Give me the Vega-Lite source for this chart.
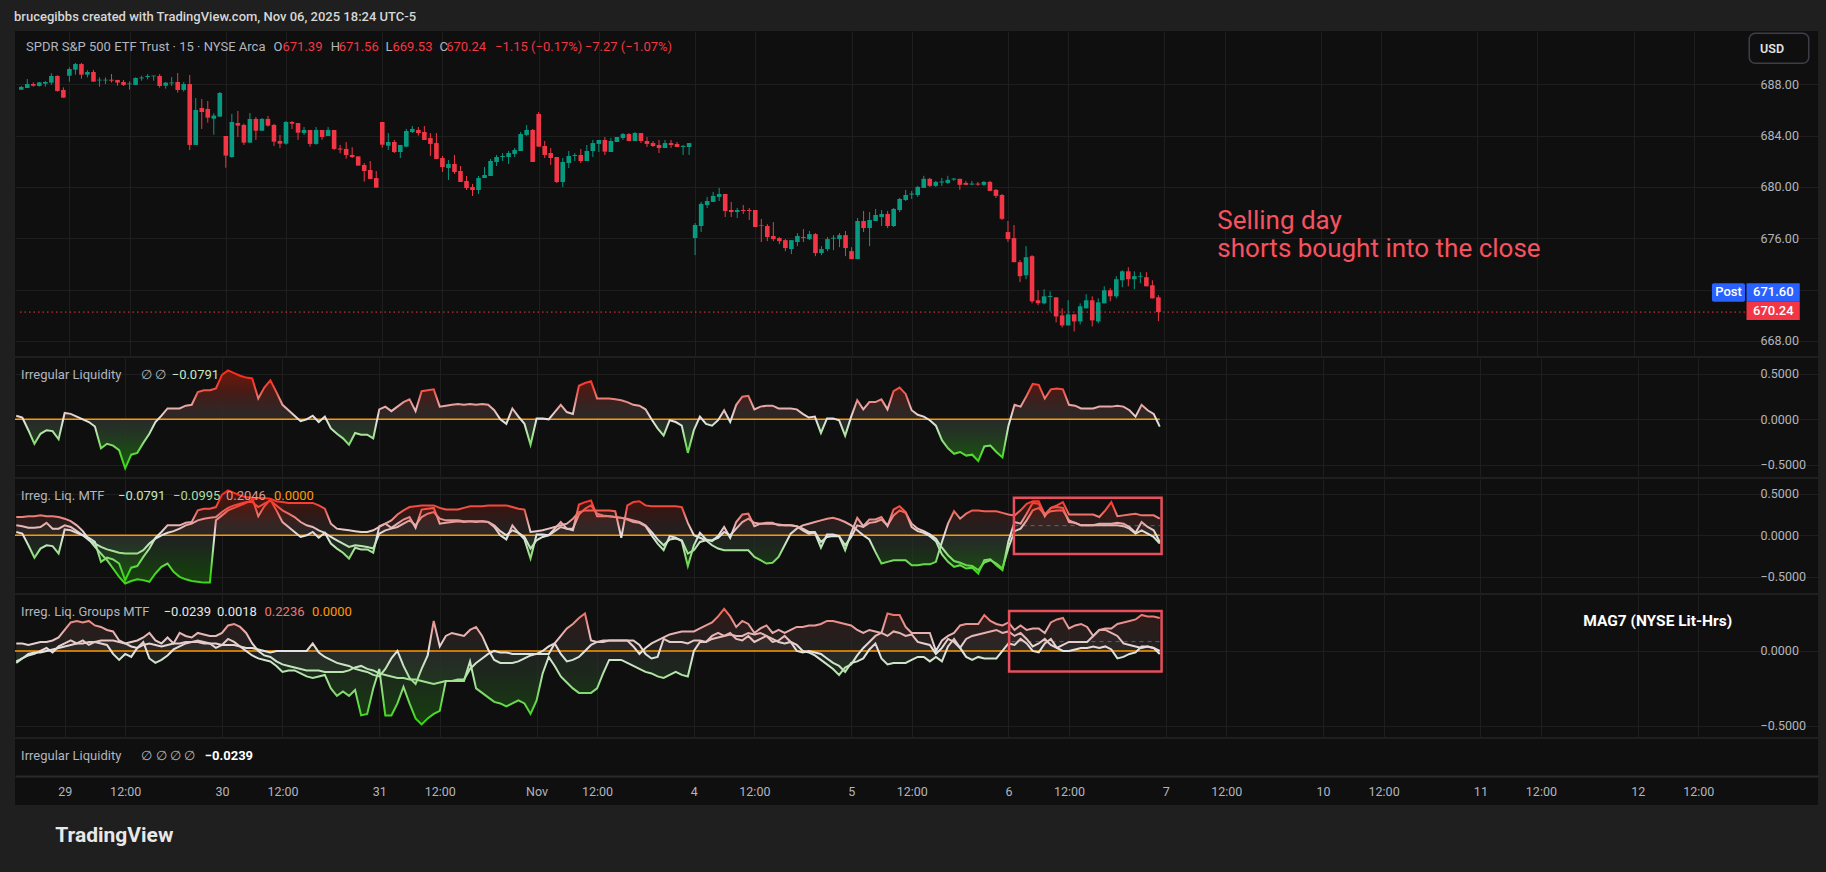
{
"$schema": "https://vega.github.io/schema/vega-lite/v6.json",
"background": "#1f1f1f",
"padding": {"left": 12, "right": 11, "top": 11, "bottom": 26},
"spacing": 2,
"title": {"text": "TradingView", "orient": "bottom", "anchor": "start", "offset": 20, "dx": 43, "font": "Roboto", "fontSize": 21, "fontWeight": "bold", "color": "#e8e8e8"},
"config": {
  "view": {"stroke": null, "fill": "#0f0f0f"},
  "axis": {"labelFont": "Roboto", "labelColor": "#b2b5be", "labelFontSize": 12.5, "domain": false, "ticks": false, "title": null, "gridColor": "#1e1e1e"},
  "text": {"font": "Roboto", "fontSize": 13, "align": "left", "baseline": "middle"},
  "title": {"font": "Roboto"}
},
"datasets": {
"one": [{}],
"bars": [
{"i":-8,"o":687.58,"h":687.87,"l":687.56,"c":687.79,"a":0.04,"b":0.12,"m":0.22,"d":-0.08,"e":-0.07,"f":0.05},
{"i":-7,"o":687.71,"h":688.41,"l":687.71,"c":688.02,"a":0.02,"b":0.11,"m":0.22,"d":-0.05,"e":-0.05,"f":0.05},
{"i":-6,"o":688.02,"h":688.15,"l":687.82,"c":687.89,"a":-0.12,"b":0.09,"m":0.23,"d":-0.03,"e":-0.02,"f":0.04},
{"i":-5,"o":687.87,"h":688.18,"l":687.82,"c":688.15,"a":-0.27,"b":0.09,"m":0.23,"d":-0.02,"e":-0.01,"f":0.05},
{"i":-4,"o":688.05,"h":688.26,"l":687.82,"c":688.18,"a":-0.16,"b":0.10,"m":0.24,"d":0,"e":-0.01,"f":0.06},
{"i":-3,"o":688.13,"h":688.86,"l":687.97,"c":688.65,"a":-0.12,"b":0.15,"m":0.23,"d":0.02,"e":0,"f":0.06},
{"i":-2,"o":688.65,"h":688.70,"l":687.43,"c":687.48,"a":-0.13,"b":0.08,"m":0.23,"d":-0.01,"e":0.01,"f":0.07},
{"i":-1,"o":687.56,"h":687.76,"l":686.96,"c":686.96,"a":-0.22,"b":0.08,"m":0.22,"d":0.03,"e":0.02,"f":0.09},
{"i":0,"o":688.67,"h":689.32,"l":688.21,"c":689.19,"a":0.07,"b":0.12,"m":0.20,"d":0.05,"e":0.03,"f":0.14},
{"i":1,"o":689.14,"h":689.66,"l":688.75,"c":689.58,"a":0.06,"b":0.10,"m":0.17,"d":0.07,"e":0.04,"f":0.19},
{"i":2,"o":689.58,"h":689.66,"l":688.44,"c":688.75,"a":0.03,"b":0.05,"m":0.12,"d":0.05,"e":0.05,"f":0.20},
{"i":3,"o":688.75,"h":689.09,"l":688.54,"c":688.96,"a":0,"b":0,"m":0.05,"d":0.07,"e":0.05,"f":0.19},
{"i":4,"o":688.96,"h":689.12,"l":688.21,"c":688.21,"a":-0.03,"b":-0.06,"m":-0.05,"d":0.04,"e":0.06,"f":0.20},
{"i":5,"o":688.30,"h":688.54,"l":687.82,"c":688.36,"a":-0.08,"b":-0.10,"m":-0.14,"d":0.06,"e":0.06,"f":0.17},
{"i":6,"o":688.30,"h":688.54,"l":688.02,"c":688.36,"a":-0.32,"b":-0.14,"m":-0.22,"d":0.05,"e":0.07,"f":0.16},
{"i":7,"o":688.36,"h":688.80,"l":688.15,"c":688.28,"a":-0.27,"b":-0.17,"m":-0.30,"d":0.04,"e":0.07,"f":0.14},
{"i":8,"o":688.34,"h":688.34,"l":687.89,"c":688.13,"a":-0.29,"b":-0.19,"m":-0.40,"d":-0.02,"e":0.07,"f":0.13},
{"i":9,"o":688.18,"h":688.34,"l":687.87,"c":687.95,"a":-0.34,"b":-0.21,"m":-0.50,"d":-0.06,"e":0.06,"f":0.07},
{"i":10,"o":688.00,"h":688.23,"l":687.58,"c":688.06,"a":-0.54,"b":-0.22,"m":-0.58,"d":-0.02,"e":0.05,"f":0.05},
{"i":11,"o":687.95,"h":688.54,"l":687.95,"c":688.49,"a":-0.39,"b":-0.22,"m":-0.55,"d":-0.04,"e":0.03,"f":0.06},
{"i":12,"o":688.46,"h":688.67,"l":688.28,"c":688.53,"a":-0.37,"b":-0.22,"m":-0.53,"d":0.02,"e":0.02,"f":0.07},
{"i":13,"o":688.57,"h":688.80,"l":688.39,"c":688.65,"a":-0.26,"b":-0.18,"m":-0.54,"d":0.06,"e":0.04,"f":0.09},
{"i":14,"o":688.62,"h":688.67,"l":688.28,"c":688.68,"a":-0.16,"b":-0.10,"m":-0.56,"d":-0.05,"e":0.05,"f":0.12},
{"i":15,"o":688.65,"h":688.80,"l":687.74,"c":687.87,"a":-0.03,"b":-0.04,"m":-0.46,"d":-0.08,"e":0.04,"f":0.07},
{"i":16,"o":687.89,"h":688.18,"l":687.66,"c":688.13,"a":0.04,"b":0,"m":-0.38,"d":-0.06,"e":0.03,"f":0.05},
{"i":17,"o":688.07,"h":688.57,"l":687.87,"c":688.14,"a":0.12,"b":0.03,"m":-0.34,"d":-0.03,"e":0.04,"f":0.09},
{"i":18,"o":688.18,"h":688.88,"l":687.35,"c":687.56,"a":0.12,"b":0.05,"m":-0.44,"d":0.01,"e":0.05,"f":0.05},
{"i":19,"o":687.56,"h":688.18,"l":687.43,"c":688.02,"a":0.12,"b":0.08,"m":-0.50,"d":0.03,"e":0.05,"f":0.12},
{"i":20,"o":688.02,"h":688.73,"l":682.88,"c":683.27,"a":0.15,"b":0.12,"m":-0.53,"d":0.05,"e":0.06,"f":0.10},
{"i":21,"o":683.27,"h":686.93,"l":683.27,"c":686.00,"a":0.16,"b":0.14,"m":-0.55,"d":0.06,"e":0.06,"f":0.09},
{"i":22,"o":686.15,"h":686.85,"l":684.52,"c":685.84,"a":0.30,"b":0.18,"m":-0.56,"d":0.07,"e":0.06,"f":0.12},
{"i":23,"o":686.08,"h":686.70,"l":685.01,"c":685.40,"a":0.32,"b":0.20,"m":-0.57,"d":0.06,"e":0.05,"f":0.11},
{"i":24,"o":685.32,"h":685.74,"l":684.07,"c":685.56,"a":0.32,"b":0.21,"m":-0.57,"d":0.05,"e":0.05,"f":0.10},
{"i":25,"o":685.48,"h":687.40,"l":685.48,"c":687.32,"a":0.34,"b":0.22,"m":0.18,"d":0.02,"e":0.05,"f":0.10},
{"i":26,"o":683.97,"h":683.97,"l":681.50,"c":682.44,"a":0.49,"b":0.28,"m":0.24,"d":0.04,"e":0.04,"f":0.12},
{"i":27,"o":682.33,"h":685.69,"l":682.28,"c":685.06,"a":0.54,"b":0.33,"m":0.30,"d":0.08,"e":0.04,"f":0.17},
{"i":28,"o":684.98,"h":685.92,"l":683.89,"c":684.78,"a":0.51,"b":0.36,"m":0.33,"d":0.06,"e":0.04,"f":0.18},
{"i":29,"o":684.83,"h":684.93,"l":683.27,"c":683.45,"a":0.48,"b":0.38,"m":0.36,"d":0.03,"e":0.03,"f":0.16},
{"i":30,"o":683.45,"h":685.76,"l":683.45,"c":685.30,"a":0.46,"b":0.40,"m":0.39,"d":0,"e":0.02,"f":0.12},
{"i":31,"o":685.30,"h":685.45,"l":683.66,"c":684.38,"a":0.45,"b":0.40,"m":0.43,"d":-0.03,"e":0.02,"f":0.05},
{"i":32,"o":684.38,"h":685.37,"l":684.38,"c":685.30,"a":0.23,"b":0.34,"m":0.45,"d":-0.05,"e":0.01,"f":0},
{"i":33,"o":685.30,"h":685.53,"l":684.70,"c":684.78,"a":0.35,"b":0.38,"m":0.45,"d":-0.06,"e":0,"f":-0.03},
{"i":34,"o":684.83,"h":684.91,"l":683.19,"c":683.53,"a":0.43,"b":0.42,"m":0.44,"d":-0.07,"e":-0.01,"f":-0.04},
{"i":35,"o":683.58,"h":684.05,"l":683.03,"c":683.37,"a":0.30,"b":0.36,"m":0.41,"d":-0.10,"e":0,"f":-0.07},
{"i":36,"o":683.37,"h":685.14,"l":683.29,"c":685.06,"a":0.16,"b":0.30,"m":0.40,"d":-0.14,"e":0,"f":-0.09},
{"i":37,"o":685.06,"h":685.14,"l":684.52,"c":684.93,"a":0.10,"b":0.26,"m":0.39,"d":-0.13,"e":0,"f":-0.10},
{"i":38,"o":684.98,"h":684.98,"l":683.66,"c":684.23,"a":0.04,"b":0.22,"m":0.39,"d":-0.13,"e":0,"f":-0.11},
{"i":39,"o":684.20,"h":684.67,"l":684.05,"c":684.44,"a":-0.02,"b":0.16,"m":0.39,"d":-0.15,"e":0,"f":-0.12},
{"i":40,"o":684.44,"h":684.44,"l":683.14,"c":683.35,"a":0,"b":0.12,"m":0.39,"d":-0.17,"e":0,"f":-0.13},
{"i":41,"o":683.35,"h":684.67,"l":683.29,"c":684.44,"a":0.04,"b":0.10,"m":0.39,"d":-0.18,"e":0.05,"f":-0.13},
{"i":42,"o":684.44,"h":684.44,"l":683.68,"c":683.89,"a":-0.03,"b":0.06,"m":0.36,"d":-0.17,"e":-0.01,"f":-0.13},
{"i":43,"o":683.97,"h":684.67,"l":683.97,"c":684.44,"a":0.03,"b":0.03,"m":0.32,"d":-0.16,"e":-0.04,"f":-0.14},
{"i":44,"o":684.44,"h":684.44,"l":682.88,"c":682.96,"a":-0.10,"b":-0.02,"m":0.14,"d":-0.25,"e":-0.06,"f":-0.14},
{"i":45,"o":682.99,"h":683.27,"l":682.62,"c":682.91,"a":-0.16,"b":-0.06,"m":0.08,"d":-0.30,"e":-0.08,"f":-0.14},
{"i":46,"o":682.96,"h":683.50,"l":682.20,"c":682.49,"a":-0.21,"b":-0.10,"m":0.07,"d":-0.27,"e":-0.09,"f":-0.14},
{"i":47,"o":682.49,"h":683.09,"l":682.25,"c":682.33,"a":-0.28,"b":-0.14,"m":0.06,"d":-0.30,"e":-0.10,"f":-0.13},
{"i":48,"o":682.38,"h":682.38,"l":681.66,"c":681.66,"a":-0.15,"b":-0.12,"m":0.05,"d":-0.26,"e":-0.12,"f":-0.11},
{"i":49,"o":681.71,"h":681.86,"l":680.41,"c":681.24,"a":-0.17,"b":-0.13,"m":0.04,"d":-0.43,"e":-0.13,"f":-0.10},
{"i":50,"o":681.32,"h":682.02,"l":680.62,"c":680.62,"a":-0.17,"b":-0.14,"m":0.04,"d":-0.42,"e":-0.14,"f":-0.12},
{"i":51,"o":680.69,"h":681.24,"l":679.94,"c":679.94,"a":-0.21,"b":-0.16,"m":0.06,"d":-0.25,"e":-0.16,"f":-0.13},
{"i":52,"o":685.06,"h":685.06,"l":683.06,"c":683.29,"a":0.11,"b":0.02,"m":0.10,"d":-0.12,"e":-0.17,"f":-0.15},
{"i":53,"o":683.21,"h":684.20,"l":682.88,"c":683.50,"a":0.14,"b":0.06,"m":0.14,"d":-0.43,"e":-0.12,"f":-0.16},
{"i":54,"o":683.50,"h":683.66,"l":682.64,"c":682.72,"a":0.09,"b":0.08,"m":0.18,"d":-0.43,"e":-0.05,"f":-0.17},
{"i":55,"o":682.72,"h":683.27,"l":682.25,"c":683.27,"a":0.14,"b":0.10,"m":0.25,"d":-0.35,"e":0,"f":-0.18},
{"i":56,"o":683.14,"h":684.52,"l":683.09,"c":684.36,"a":0.19,"b":0.14,"m":0.30,"d":-0.24,"e":-0.10,"f":-0.18},
{"i":57,"o":684.28,"h":684.75,"l":684.20,"c":684.52,"a":0.22,"b":0.18,"m":0.34,"d":-0.35,"e":-0.18,"f":-0.19},
{"i":58,"o":684.44,"h":684.67,"l":684.00,"c":684.20,"a":0.09,"b":0.12,"m":0.35,"d":-0.45,"e":-0.22,"f":-0.19},
{"i":59,"o":684.28,"h":684.75,"l":683.66,"c":683.66,"a":0.31,"b":0.22,"m":0.36,"d":-0.49,"e":-0.12,"f":-0.20},
{"i":60,"o":683.81,"h":684.20,"l":682.41,"c":683.35,"a":0.32,"b":0.26,"m":0.36,"d":-0.45,"e":-0.03,"f":-0.21},
{"i":61,"o":683.42,"h":684.20,"l":682.18,"c":682.18,"a":0.33,"b":0.28,"m":0.36,"d":-0.42,"e":0.20,"f":-0.22},
{"i":62,"o":682.25,"h":682.41,"l":681.16,"c":681.55,"a":0.14,"b":0.20,"m":0.33,"d":-0.40,"e":0.03,"f":-0.21},
{"i":63,"o":681.47,"h":682.10,"l":680.54,"c":681.79,"a":0.15,"b":0.18,"m":0.31,"d":-0.20,"e":0.10,"f":-0.20},
{"i":64,"o":681.79,"h":682.49,"l":681.01,"c":681.16,"a":0.16,"b":0.18,"m":0.31,"d":-0.20,"e":0.12,"f":-0.20},
{"i":65,"o":681.24,"h":681.63,"l":680.38,"c":680.38,"a":0.17,"b":0.18,"m":0.31,"d":-0.20,"e":0.11,"f":-0.19},
{"i":66,"o":680.46,"h":680.85,"l":679.76,"c":679.91,"a":0.16,"b":0.17,"m":0.33,"d":-0.20,"e":0.10,"f":-0.19},
{"i":67,"o":679.99,"h":680.23,"l":679.29,"c":679.76,"a":0.17,"b":0.17,"m":0.35,"d":-0.07,"e":0.14,"f":-0.12},
{"i":68,"o":679.76,"h":680.85,"l":679.45,"c":680.69,"a":0.16,"b":0.17,"m":0.35,"d":-0.25,"e":0.16,"f":-0.08},
{"i":69,"o":680.69,"h":681.55,"l":680.69,"c":680.93,"a":0.17,"b":0.17,"m":0.35,"d":-0.28,"e":0.10,"f":-0.05},
{"i":70,"o":680.85,"h":682.18,"l":680.85,"c":682.02,"a":0.16,"b":0.16,"m":0.36,"d":-0.31,"e":0.01,"f":-0.02},
{"i":71,"o":681.94,"h":682.49,"l":681.63,"c":682.33,"a":0.10,"b":0.12,"m":0.36,"d":-0.34,"e":-0.06,"f":0},
{"i":72,"o":682.33,"h":682.64,"l":682.02,"c":682.41,"a":0,"b":0.05,"m":0.36,"d":-0.35,"e":-0.08,"f":-0.01},
{"i":73,"o":682.33,"h":682.80,"l":681.79,"c":682.64,"a":-0.05,"b":0,"m":0.36,"d":-0.37,"e":-0.08,"f":-0.01},
{"i":74,"o":682.57,"h":683.03,"l":682.33,"c":682.88,"a":0.12,"b":0.06,"m":0.34,"d":-0.35,"e":-0.08,"f":-0.02},
{"i":75,"o":682.80,"h":684.28,"l":682.80,"c":684.12,"a":0.03,"b":0.03,"m":0.32,"d":-0.33,"e":-0.07,"f":-0.02},
{"i":76,"o":684.05,"h":684.83,"l":683.97,"c":684.44,"a":-0.05,"b":-0.02,"m":0.31,"d":-0.35,"e":-0.05,"f":-0.02},
{"i":77,"o":684.44,"h":684.52,"l":681.94,"c":681.94,"a":-0.28,"b":-0.16,"m":0.04,"d":-0.42,"e":-0.03,"f":-0.02},
{"i":78,"o":685.69,"h":685.84,"l":683.14,"c":683.14,"a":0.01,"b":-0.06,"m":0.05,"d":-0.33,"e":-0.02,"f":-0.02},
{"i":79,"o":683.19,"h":683.58,"l":682.25,"c":682.49,"a":0.01,"b":-0.02,"m":0.06,"d":-0.15,"e":0,"f":-0.02},
{"i":80,"o":682.64,"h":683.03,"l":681.71,"c":682.25,"a":0,"b":0,"m":0.08,"d":-0.04,"e":0.03,"f":-0.02},
{"i":81,"o":682.33,"h":682.33,"l":680.30,"c":680.38,"a":0.08,"b":0.05,"m":0.10,"d":-0.10,"e":0.05,"f":0.05},
{"i":82,"o":680.38,"h":682.25,"l":679.99,"c":681.94,"a":0.16,"b":0.10,"m":0.12,"d":-0.17,"e":-0.02,"f":0.10},
{"i":83,"o":681.86,"h":682.80,"l":681.47,"c":682.41,"a":0.08,"b":0.08,"m":0.14,"d":-0.21,"e":-0.07,"f":0.15},
{"i":84,"o":682.41,"h":682.64,"l":682.02,"c":682.49,"a":0.06,"b":0.08,"m":0.20,"d":-0.25,"e":-0.06,"f":0.18},
{"i":85,"o":682.49,"h":682.96,"l":681.86,"c":682.02,"a":0.37,"b":0.25,"m":0.28,"d":-0.28,"e":-0.04,"f":0.22},
{"i":86,"o":682.02,"h":683.27,"l":682.02,"c":682.80,"a":0.40,"b":0.32,"m":0.30,"d":-0.28,"e":0,"f":0.25},
{"i":87,"o":682.80,"h":683.66,"l":682.33,"c":683.42,"a":0.42,"b":0.36,"m":0.30,"d":-0.28,"e":0.04,"f":0.07},
{"i":88,"o":683.35,"h":683.66,"l":682.72,"c":683.66,"a":0.23,"b":0.26,"m":0.30,"d":-0.25,"e":0.06,"f":0.06},
{"i":89,"o":683.66,"h":683.89,"l":682.49,"c":682.75,"a":0.23,"b":0.24,"m":0.30,"d":-0.15,"e":0.07,"f":0.06},
{"i":90,"o":682.72,"h":683.81,"l":682.72,"c":683.58,"a":0.23,"b":0.23,"m":0.30,"d":-0.06,"e":0.07,"f":0.07},
{"i":91,"o":683.50,"h":683.89,"l":683.50,"c":683.89,"a":0.22,"b":0.22,"m":0.29,"d":-0.06,"e":0.07,"f":0.07},
{"i":92,"o":683.81,"h":684.20,"l":683.66,"c":684.12,"a":0.21,"b":0.21,"m":-0.03,"d":-0.06,"e":0.07,"f":0.07},
{"i":93,"o":684.12,"h":684.20,"l":683.58,"c":683.58,"a":0.19,"b":0.20,"m":0.36,"d":-0.08,"e":0.07,"f":0.07},
{"i":94,"o":683.58,"h":684.28,"l":683.58,"c":684.20,"a":0.16,"b":0.18,"m":0.40,"d":-0.10,"e":0.07,"f":0.03},
{"i":95,"o":684.20,"h":684.20,"l":683.42,"c":683.58,"a":0.15,"b":0.16,"m":0.41,"d":-0.12,"e":0.04,"f":-0.02},
{"i":96,"o":683.58,"h":683.89,"l":683.11,"c":683.35,"a":0.11,"b":0.12,"m":0.36,"d":-0.14,"e":-0.02,"f":0.02},
{"i":97,"o":683.42,"h":683.58,"l":683.11,"c":683.19,"a":0,"b":0.04,"m":0.35,"d":-0.15,"e":-0.05,"f":0.05},
{"i":98,"o":683.27,"h":683.66,"l":682.64,"c":683.03,"a":-0.10,"b":-0.05,"m":0.35,"d":-0.17,"e":-0.04,"f":0.07},
{"i":99,"o":683.03,"h":683.66,"l":683.03,"c":683.42,"a":-0.18,"b":-0.12,"m":0.35,"d":-0.18,"e":0.08,"f":0.09},
{"i":100,"o":683.42,"h":683.66,"l":683.03,"c":683.27,"a":-0.01,"b":-0.05,"m":0.35,"d":-0.16,"e":0.06,"f":0.11},
{"i":101,"o":683.35,"h":683.50,"l":683.11,"c":683.11,"a":-0.03,"b":-0.04,"m":0.35,"d":-0.14,"e":0.06,"f":0.12},
{"i":102,"o":683.12,"h":683.27,"l":682.49,"c":683.20,"a":-0.07,"b":-0.06,"m":0.34,"d":-0.16,"e":0.06,"f":0.13},
{"i":103,"o":683.11,"h":683.42,"l":682.49,"c":683.42,"a":-0.37,"b":-0.22,"m":0.15,"d":-0.17,"e":0.05,"f":0.13},
{"i":104,"o":676.01,"h":677.18,"l":674.68,"c":677.03,"a":-0.12,"b":-0.18,"m":0,"d":0,"e":0.07,"f":0.13},
{"i":105,"o":676.95,"h":678.83,"l":676.48,"c":678.67,"a":0.03,"b":-0.08,"m":-0.03,"d":0.06,"e":0.07,"f":0.15},
{"i":106,"o":678.59,"h":679.22,"l":678.36,"c":678.90,"a":-0.05,"b":-0.06,"m":-0.06,"d":0.06,"e":0.06,"f":0.17},
{"i":107,"o":678.83,"h":679.61,"l":678.83,"c":679.30,"a":-0.07,"b":-0.06,"m":-0.12,"d":0.10,"e":0.08,"f":0.19},
{"i":108,"o":679.22,"h":679.92,"l":678.90,"c":679.45,"a":-0.01,"b":-0.03,"m":-0.16,"d":0.12,"e":0.09,"f":0.23},
{"i":109,"o":679.45,"h":679.45,"l":677.65,"c":678.12,"a":0.10,"b":0.04,"m":-0.18,"d":0.10,"e":0.10,"f":0.28},
{"i":110,"o":678.20,"h":678.83,"l":677.65,"c":678.04,"a":-0.03,"b":0,"m":-0.18,"d":0.12,"e":0.11,"f":0.23},
{"i":111,"o":678.04,"h":678.36,"l":677.57,"c":678.20,"a":0.16,"b":0.08,"m":-0.18,"d":0.08,"e":0.10,"f":0.16},
{"i":112,"o":678.20,"h":678.59,"l":677.89,"c":678.12,"a":0.25,"b":0.16,"m":-0.18,"d":0.07,"e":0.10,"f":0.20},
{"i":113,"o":678.20,"h":678.36,"l":677.42,"c":678.12,"a":0.26,"b":0.20,"m":-0.18,"d":0.10,"e":0.12,"f":0.18},
{"i":114,"o":678.20,"h":678.20,"l":676.87,"c":676.87,"a":0.11,"b":0.15,"m":-0.26,"d":0.06,"e":0.11,"f":0.12},
{"i":115,"o":677.03,"h":677.50,"l":675.70,"c":676.98,"a":0.14,"b":0.14,"m":-0.30,"d":0.08,"e":0.12,"f":0.15},
{"i":116,"o":676.95,"h":677.10,"l":675.77,"c":676.09,"a":0.15,"b":0.14,"m":-0.34,"d":0.10,"e":0.10,"f":0.17},
{"i":117,"o":676.17,"h":677.26,"l":675.77,"c":675.93,"a":0.15,"b":0.14,"m":-0.33,"d":0.06,"e":0.08,"f":0.12},
{"i":118,"o":676.01,"h":676.09,"l":675.54,"c":675.77,"a":0.12,"b":0.13,"m":-0.26,"d":0.07,"e":0.06,"f":0.14},
{"i":119,"o":675.85,"h":675.93,"l":674.99,"c":675.23,"a":0.12,"b":0.12,"m":-0.12,"d":0.10,"e":0.05,"f":0.12},
{"i":120,"o":675.15,"h":675.85,"l":674.76,"c":675.85,"a":0.12,"b":0.12,"m":0.02,"d":0.06,"e":0.06,"f":0.14},
{"i":121,"o":675.70,"h":676.40,"l":675.38,"c":676.17,"a":0.11,"b":0.11,"m":0.08,"d":0,"e":0.04,"f":0.16},
{"i":122,"o":676.09,"h":676.71,"l":675.70,"c":676.01,"a":0.06,"b":0.08,"m":0.12,"d":-0.01,"e":0,"f":0.16},
{"i":123,"o":675.93,"h":676.56,"l":675.85,"c":676.32,"a":0.02,"b":0.04,"m":0.14,"d":0,"e":-0.01,"f":0.17},
{"i":124,"o":676.32,"h":676.40,"l":674.60,"c":674.84,"a":0.03,"b":0.04,"m":0.16,"d":-0.01,"e":-0.03,"f":0.17},
{"i":125,"o":674.84,"h":675.38,"l":674.68,"c":675.15,"a":-0.15,"b":-0.08,"m":0.18,"d":-0.02,"e":-0.06,"f":0.18},
{"i":126,"o":675.15,"h":676.09,"l":674.99,"c":675.93,"a":0.01,"b":-0.02,"m":0.20,"d":-0.05,"e":-0.09,"f":0.20},
{"i":127,"o":675.96,"h":676.24,"l":675.07,"c":676.04,"a":0.01,"b":-0.01,"m":0.21,"d":-0.08,"e":-0.12,"f":0.20},
{"i":128,"o":675.93,"h":676.40,"l":675.30,"c":676.24,"a":-0.01,"b":-0.01,"m":0.19,"d":-0.10,"e":-0.16,"f":0.19},
{"i":129,"o":676.24,"h":676.56,"l":674.60,"c":675.23,"a":-0.18,"b":-0.12,"m":0.16,"d":-0.14,"e":-0.11,"f":0.18},
{"i":130,"o":674.99,"h":675.30,"l":674.37,"c":674.37,"a":0.03,"b":-0.02,"m":0.12,"d":-0.08,"e":-0.09,"f":0.17},
{"i":131,"o":674.37,"h":677.57,"l":674.37,"c":677.34,"a":0.21,"b":0.12,"m":0.06,"d":-0.07,"e":-0.03,"f":0.14},
{"i":132,"o":677.34,"h":678.12,"l":676.48,"c":676.79,"a":0.11,"b":0.10,"m":0,"d":-0.05,"e":0.02,"f":0.12},
{"i":133,"o":676.79,"h":678.04,"l":675.38,"c":677.42,"a":0.19,"b":0.15,"m":-0.05,"d":0.01,"e":0.06,"f":0.14},
{"i":134,"o":677.34,"h":678.28,"l":677.34,"c":677.81,"a":0.19,"b":0.16,"m":-0.20,"d":0.05,"e":0.10,"f":0.13},
{"i":135,"o":677.65,"h":678.20,"l":676.95,"c":677.89,"a":0.22,"b":0.19,"m":-0.34,"d":-0.05,"e":0.12,"f":0.12},
{"i":136,"o":677.89,"h":678.12,"l":676.79,"c":676.95,"a":0.11,"b":0.12,"m":-0.32,"d":-0.09,"e":0.10,"f":0.25},
{"i":137,"o":676.95,"h":678.36,"l":676.87,"c":678.28,"a":0.31,"b":0.24,"m":-0.30,"d":-0.08,"e":0.13,"f":0.24},
{"i":138,"o":678.20,"h":679.14,"l":678.04,"c":679.06,"a":0.35,"b":0.30,"m":-0.30,"d":-0.08,"e":0.12,"f":0.24},
{"i":139,"o":678.98,"h":679.77,"l":678.90,"c":679.37,"a":0.28,"b":0.27,"m":-0.30,"d":-0.08,"e":0.10,"f":0.16},
{"i":140,"o":679.40,"h":679.69,"l":679.06,"c":679.48,"a":0.10,"b":0.14,"m":-0.36,"d":-0.06,"e":0.11,"f":0.12},
{"i":141,"o":679.37,"h":680.08,"l":679.22,"c":680.00,"a":0.05,"b":0.08,"m":-0.36,"d":-0.04,"e":0.06,"f":0.12},
{"i":142,"o":679.92,"h":680.86,"l":679.92,"c":680.63,"a":0.03,"b":0.05,"m":-0.35,"d":-0.04,"e":0.05,"f":0.12},
{"i":143,"o":680.63,"h":680.70,"l":680.00,"c":680.08,"a":-0.01,"b":0.01,"m":-0.35,"d":-0.07,"e":0.04,"f":0.12},
{"i":144,"o":680.08,"h":680.47,"l":680.00,"c":680.39,"a":-0.07,"b":-0.04,"m":-0.32,"d":-0.04,"e":-0.02,"f":0},
{"i":145,"o":680.34,"h":680.70,"l":680.08,"c":680.42,"a":-0.23,"b":-0.15,"m":-0.08,"d":-0.07,"e":0.02,"f":0.07},
{"i":146,"o":680.31,"h":680.86,"l":680.24,"c":680.55,"a":-0.32,"b":-0.24,"m":0.14,"d":0.03,"e":0.08,"f":0.10},
{"i":147,"o":680.57,"h":680.70,"l":680.47,"c":680.65,"a":-0.38,"b":-0.31,"m":0.29,"d":0.08,"e":0.06,"f":0.12},
{"i":148,"o":680.63,"h":680.63,"l":679.77,"c":680.16,"a":-0.36,"b":-0.33,"m":0.20,"d":0.02,"e":0.02,"f":0.17},
{"i":149,"o":680.31,"h":680.47,"l":680.16,"c":680.16,"a":-0.40,"b":-0.36,"m":0.26,"d":-0.04,"e":0.08,"f":0.18},
{"i":150,"o":680.18,"h":680.47,"l":680.16,"c":680.26,"a":-0.39,"b":-0.37,"m":0.30,"d":-0.06,"e":0.10,"f":0.18},
{"i":151,"o":680.26,"h":680.39,"l":680.08,"c":680.18,"a":-0.46,"b":-0.42,"m":0.30,"d":-0.04,"e":0.11,"f":0.18},
{"i":152,"o":680.16,"h":680.47,"l":680.08,"c":680.39,"a":-0.30,"b":-0.33,"m":0.29,"d":-0.05,"e":0.12,"f":0.24},
{"i":153,"o":680.39,"h":680.47,"l":679.69,"c":679.69,"a":-0.29,"b":-0.30,"m":0.29,"d":-0.05,"e":0.13,"f":0.20},
{"i":154,"o":679.77,"h":679.84,"l":679.14,"c":679.30,"a":-0.36,"b":-0.34,"m":0.29,"d":-0.05,"e":0.14,"f":0.18},
{"i":155,"o":679.37,"h":679.45,"l":677.42,"c":677.51,"a":-0.42,"b":-0.40,"m":0.27,"d":0,"e":0.12,"f":0.17},
{"i":156,"o":676.48,"h":677.34,"l":675.70,"c":675.93,"a":-0.07,"b":-0.15,"m":0.25,"d":0.05,"e":0.13,"f":0.19},
{"i":157,"o":676.01,"h":677.03,"l":674.13,"c":674.13,"a":0.16,"b":0.05,"m":0.24,"d":0.04,"e":0.10,"f":0.14},
{"i":158,"o":674.13,"h":674.29,"l":672.57,"c":673.04,"a":0.14,"b":0.08,"m":0.30,"d":0.08,"e":0.12,"f":0.17},
{"i":159,"o":673.11,"h":675.38,"l":672.80,"c":674.52,"a":0.26,"b":0.18,"m":0.38,"d":0.05,"e":0.08,"f":0.14},
{"i":160,"o":674.60,"h":674.68,"l":670.92,"c":671.08,"a":0.39,"b":0.30,"m":0.41,"d":0,"e":0.03,"f":0.15},
{"i":161,"o":671.16,"h":671.94,"l":670.77,"c":670.92,"a":0.38,"b":0.33,"m":0.41,"d":-0.01,"e":0.05,"f":0.15},
{"i":162,"o":670.92,"h":672.02,"l":670.84,"c":671.47,"a":0.23,"b":0.25,"m":0.25,"d":0.05,"e":0.08,"f":0.12},
{"i":163,"o":671.42,"h":671.86,"l":670.29,"c":671.50,"a":0.33,"b":0.29,"m":0.33,"d":0.08,"e":0.04,"f":0.19},
{"i":164,"o":671.39,"h":671.39,"l":669.43,"c":669.90,"a":0.34,"b":0.30,"m":0.36,"d":0.02,"e":0.02,"f":0.21},
{"i":165,"o":669.98,"h":670.53,"l":669.04,"c":669.20,"a":0.33,"b":0.30,"m":0.40,"d":0,"e":0.04,"f":0.22},
{"i":166,"o":669.20,"h":671.16,"l":669.20,"c":670.06,"a":0.16,"b":0.18,"m":0.25,"d":0,"e":0.06,"f":0.15},
{"i":167,"o":670.06,"h":670.06,"l":668.73,"c":669.51,"a":0.15,"b":0.15,"m":0.25,"d":0.01,"e":0.06,"f":0.17},
{"i":168,"o":669.51,"h":670.92,"l":669.28,"c":670.69,"a":0.12,"b":0.12,"m":0.25,"d":0.02,"e":0.06,"f":0.18},
{"i":169,"o":670.53,"h":671.63,"l":670.53,"c":671.16,"a":0.12,"b":0.12,"m":0.25,"d":0.02,"e":0.06,"f":0.16},
{"i":170,"o":671.16,"h":671.47,"l":669.12,"c":669.59,"a":0.12,"b":0.12,"m":0.25,"d":0.03,"e":0.10,"f":0.10},
{"i":171,"o":669.51,"h":671.31,"l":669.36,"c":671.00,"a":0.14,"b":0.12,"m":0.22,"d":0.02,"e":0.14,"f":0.14},
{"i":172,"o":670.92,"h":672.25,"l":670.92,"c":671.94,"a":0.14,"b":0.12,"m":0.30,"d":0.03,"e":0.14,"f":0.15},
{"i":173,"o":671.94,"h":672.10,"l":671.08,"c":671.47,"a":0.14,"b":0.12,"m":0.40,"d":0.01,"e":0.12,"f":0.15},
{"i":174,"o":671.47,"h":673.04,"l":671.31,"c":672.80,"a":0.15,"b":0.12,"m":0.23,"d":-0.05,"e":0.10,"f":0.18},
{"i":175,"o":672.72,"h":673.50,"l":672.18,"c":673.42,"a":0.14,"b":0.11,"m":0.24,"d":-0.04,"e":0.05,"f":0.19},
{"i":176,"o":673.42,"h":673.74,"l":672.25,"c":672.80,"a":0.10,"b":0.08,"m":0.25,"d":-0.02,"e":0.04,"f":0.20},
{"i":177,"o":672.80,"h":673.42,"l":672.02,"c":673.04,"a":0.03,"b":0.02,"m":0.26,"d":-0.01,"e":0.03,"f":0.21},
{"i":178,"o":673.00,"h":673.35,"l":672.49,"c":673.06,"a":0.16,"b":0.06,"m":0.24,"d":0.03,"e":0.02,"f":0.24},
{"i":179,"o":672.96,"h":673.35,"l":672.25,"c":672.25,"a":0.10,"b":0.02,"m":0.24,"d":0.03,"e":0.03,"f":0.23},
{"i":180,"o":672.33,"h":672.72,"l":671.31,"c":671.31,"a":0.06,"b":-0.02,"m":0.24,"d":0.02,"e":0.02,"f":0.23},
{"i":181,"o":671.39,"h":671.56,"l":669.53,"c":670.24,"a":-0.08,"b":-0.10,"m":0.20,"d":-0.02,"e":0,"f":0.22}
]
},
"vconcat": [
{
  "width": 1803, "height": 325,
  "title": {"text": "brucegibbs created with TradingView.com, Nov 06, 2025 18:24 UTC-5", "anchor": "start", "offset": 7, "fontSize": 13, "fontWeight": 500, "color": "#d6d6d6", "dx": -1},
  "layer": [
    {"data": {"name": "bars"}, "mark": {"type": "rule", "strokeWidth": 1}, "encoding": {"x": {"field": "i", "type": "quantitative", "scale": {"domain": [-8.21, 289.8], "nice": false, "zero": false}, "axis": {"values": [0,10,26,36,52,62,78,88,104,114,130,140,156,166,182,192,208,218,234,244,260,270], "labels": false, "ticks": false, "domain": false, "grid": true, "gridColor": "#1e1e1e", "title": null}}, "y": {"field": "l", "type": "quantitative", "scale": {"domain": [666.815, 692.156], "nice": false, "zero": false}, "axis": {"orient": "right", "offset": -67, "values": [668,672,676,680,684,688], "format": ".2f", "labelExpr": "datum.value == 672 ? '' : datum.label", "labelAlign": "left", "labelPadding": 9, "grid": true, "gridColor": "#1e1e1e"}}, "y2": {"field": "h"}, "color": {"condition": {"test": "datum.c < datum.o", "value": "#f23645"}, "value": "#089981"}}},
    {"data": {"name": "bars"}, "mark": {"type": "bar", "width": 4.6}, "encoding": {"x": {"field": "i", "type": "quantitative"}, "y": {"field": "o", "type": "quantitative"}, "y2": {"field": "c"}, "color": {"condition": {"test": "datum.c < datum.o", "value": "#f23645"}, "value": "#089981"}}},
    {"data": {"name": "one"}, "mark": {"type": "rule", "color": "#f23645", "strokeDash": [1.5, 3], "strokeWidth": 1}, "encoding": {"x": {"datum": -8.21}, "x2": {"datum": 278.6}, "y": {"datum": 670.24}}},
    {"data": {"name": "one"}, "mark": {"type": "text", "color": "#b2b5be"}, "encoding": {"x": {"datum": -7.2}, "y": {"datum": 690.93}, "text": {"value": "SPDR S&P 500 ETF Trust · 15 · NYSE Arca"}}},
    {"data": {"name": "one"}, "mark": {"type": "text", "color": "#b2b5be"}, "encoding": {"x": {"datum": 33.93}, "y": {"datum": 690.93}, "text": {"value": "O"}}},
    {"data": {"name": "one"}, "mark": {"type": "text", "color": "#f23645"}, "encoding": {"x": {"datum": 35.42}, "y": {"datum": 690.93}, "text": {"value": "671.39"}}},
    {"data": {"name": "one"}, "mark": {"type": "text", "color": "#b2b5be"}, "encoding": {"x": {"datum": 43.43}, "y": {"datum": 690.93}, "text": {"value": "H"}}},
    {"data": {"name": "one"}, "mark": {"type": "text", "color": "#f23645"}, "encoding": {"x": {"datum": 44.77}, "y": {"datum": 690.93}, "text": {"value": "671.56"}}},
    {"data": {"name": "one"}, "mark": {"type": "text", "color": "#b2b5be"}, "encoding": {"x": {"datum": 52.53}, "y": {"datum": 690.93}, "text": {"value": "L"}}},
    {"data": {"name": "one"}, "mark": {"type": "text", "color": "#f23645"}, "encoding": {"x": {"datum": 53.70}, "y": {"datum": 690.93}, "text": {"value": "669.53"}}},
    {"data": {"name": "one"}, "mark": {"type": "text", "color": "#b2b5be"}, "encoding": {"x": {"datum": 61.53}, "y": {"datum": 690.93}, "text": {"value": "C"}}},
    {"data": {"name": "one"}, "mark": {"type": "text", "color": "#f23645"}, "encoding": {"x": {"datum": 62.62}, "y": {"datum": 690.93}, "text": {"value": "670.24"}}},
    {"data": {"name": "one"}, "mark": {"type": "text", "color": "#f23645"}, "encoding": {"x": {"datum": 70.74}, "y": {"datum": 690.93}, "text": {"value": "−1.15 (−0.17%)"}}},
    {"data": {"name": "one"}, "mark": {"type": "text", "color": "#f23645"}, "encoding": {"x": {"datum": 85.66}, "y": {"datum": 690.93}, "text": {"value": "−7.27 (−1.07%)"}}},
    {"data": {"name": "one"}, "mark": {"type": "text", "color": "#f7525f", "fontSize": 26}, "encoding": {"x": {"datum": 190.8}, "y": {"datum": 677.34}, "text": {"value": "Selling day"}}},
    {"data": {"name": "one"}, "mark": {"type": "text", "color": "#f7525f", "fontSize": 26}, "encoding": {"x": {"datum": 190.8}, "y": {"datum": 675.16}, "text": {"value": "shorts bought into the close"}}},
    {"data": {"name": "one"}, "mark": {"type": "rect", "color": "#2962ff", "cornerRadius": 2}, "encoding": {"x": {"datum": 273.0}, "x2": {"datum": 278.5}, "y": {"datum": 672.48}, "y2": {"datum": 671.05}}},
    {"data": {"name": "one"}, "mark": {"type": "rect", "color": "#2962ff"}, "encoding": {"x": {"datum": 278.75}, "x2": {"datum": 287.6}, "y": {"datum": 672.48}, "y2": {"datum": 671.05}}},
    {"data": {"name": "one"}, "mark": {"type": "rect", "color": "#f23645"}, "encoding": {"x": {"datum": 278.75}, "x2": {"datum": 287.6}, "y": {"datum": 671.05}, "y2": {"datum": 669.62}}},
    {"data": {"name": "one"}, "mark": {"type": "text", "color": "#ffffff", "align": "center", "fontSize": 13, "fontWeight": 500}, "encoding": {"x": {"datum": 275.75}, "y": {"datum": 671.77}, "text": {"value": "Post"}}},
    {"data": {"name": "one"}, "mark": {"type": "text", "color": "#ffffff", "align": "center", "fontSize": 13, "fontWeight": 500}, "encoding": {"x": {"datum": 283.2}, "y": {"datum": 671.77}, "text": {"value": "671.60"}}},
    {"data": {"name": "one"}, "mark": {"type": "text", "color": "#ffffff", "align": "center", "fontSize": 13, "fontWeight": 500}, "encoding": {"x": {"datum": 283.2}, "y": {"datum": 670.33}, "text": {"value": "670.24"}}},
    {"data": {"name": "one"}, "mark": {"type": "rect", "fill": "#0f0f0f", "stroke": "#3c3f47", "strokeWidth": 1.5, "cornerRadius": 6}, "encoding": {"x": {"datum": 279.2}, "x2": {"datum": 289.1}, "y": {"datum": 691.98}, "y2": {"datum": 689.64}}},
    {"data": {"name": "one"}, "mark": {"type": "text", "color": "#e0e0e0", "align": "center", "fontSize": 12.5, "fontWeight": 600}, "encoding": {"x": {"datum": 283.0}, "y": {"datum": 690.78}, "text": {"value": "USD"}}}
  ]
},
{
  "width": 1803, "height": 119,
  "layer": [
    {"data": {"name": "bars"}, "mark": {"type": "area", "opacity": 0.9, "fill": {"gradient": "linear", "x1": 0, "y1": 0, "x2": 0, "y2": 1, "stops": [{"offset": 0, "color": "#6b1a10"}, {"offset": 0.0833, "color": "#6b1a10"}, {"offset": 0.2222, "color": "#4d1c16"}, {"offset": 0.3611, "color": "#3a2624"}, {"offset": 0.5, "color": "#2c2c2c"}, {"offset": 0.6389, "color": "#263826"}, {"offset": 0.7778, "color": "#1f4a1a"}, {"offset": 0.9167, "color": "#1b5a10"}, {"offset": 1, "color": "#1b5a10"}]}}, "encoding": {"x": {"field": "i", "type": "quantitative", "scale": {"domain": [-8.21, 289.8], "nice": false, "zero": false}, "axis": {"values": [0,10,26,36,52,62,78,88,104,114,130,140,156,166,182,192,208,218,234,244,260,270], "labels": false, "ticks": false, "domain": false, "grid": true, "gridColor": "#1e1e1e", "title": null}}, "y": {"field": "a", "type": "quantitative", "scale": {"domain": [-0.636, 0.676], "nice": false, "zero": false}, "axis": {"orient": "right", "offset": -67, "values": [0.5, 0, -0.5], "format": ".4f", "labelAlign": "left", "labelPadding": 9, "grid": true, "gridColor": "#1e1e1e"}}, "y2": {"datum": 0}}},
    {"data": {"name": "one"}, "mark": {"type": "rule", "color": "#ff9800", "strokeWidth": 1.5}, "encoding": {"x": {"datum": -8.21}, "x2": {"datum": 181}, "y": {"datum": 0}}},
    {"data": {"name": "bars"}, "mark": {"type": "line", "strokeWidth": 2, "stroke": {"gradient": "linear", "x1": 0, "y1": 0, "x2": 0, "y2": 1, "stops": [{"offset": 0, "color": "#ff2b1c"}, {"offset": 0.0833, "color": "#ff2b1c"}, {"offset": 0.2222, "color": "#ee5a50"}, {"offset": 0.3611, "color": "#e6a4a2"}, {"offset": 0.5, "color": "#e4e4e4"}, {"offset": 0.6389, "color": "#b4e4aa"}, {"offset": 0.7778, "color": "#7ada62"}, {"offset": 0.9167, "color": "#3fd81c"}, {"offset": 1, "color": "#3fd81c"}]}}, "encoding": {"x": {"field": "i", "type": "quantitative"}, "y": {"field": "a", "type": "quantitative"}}},
    {"data": {"name": "one"}, "mark": {"type": "text", "color": "#b2b5be"}, "encoding": {"x": {"datum": -7.2}, "y": {"datum": 0.488}, "text": {"value": "Irregular Liquidity"}}},
    {"data": {"name": "one"}, "mark": {"type": "text", "color": "#b2b5be"}, "encoding": {"x": {"datum": 12.61}, "y": {"datum": 0.488}, "text": {"value": "∅  ∅"}}},
    {"data": {"name": "one"}, "mark": {"type": "text", "color": "#c8e8c4"}, "encoding": {"x": {"datum": 17.69}, "y": {"datum": 0.488}, "text": {"value": "−0.0791"}}}
  ]
},
{
  "width": 1803, "height": 114,
  "layer": [
    {"data": {"name": "bars"}, "mark": {"type": "area", "opacity": 0.6, "fill": {"gradient": "linear", "x1": 0, "y1": 0, "x2": 0, "y2": 1, "stops": [{"offset": 0, "color": "#6b1a10"}, {"offset": 0.1456, "color": "#4d1c16"}, {"offset": 0.2913, "color": "#3a2624"}, {"offset": 0.4369, "color": "#2c2c2c"}, {"offset": 0.5825, "color": "#263826"}, {"offset": 0.7282, "color": "#1f4a1a"}, {"offset": 0.8738, "color": "#1b5a10"}, {"offset": 1, "color": "#1b5a10"}]}}, "encoding": {"x": {"field": "i", "type": "quantitative", "scale": {"domain": [-8.21, 289.8], "nice": false, "zero": false}, "axis": {"values": [0,10,26,36,52,62,78,88,104,114,130,140,156,166,182,192,208,218,234,244,260,270], "labels": false, "ticks": false, "domain": false, "grid": true, "gridColor": "#1e1e1e", "title": null}}, "y": {"field": "m", "type": "quantitative", "scale": {"domain": [-0.695, 0.678], "nice": false, "zero": false}, "axis": {"orient": "right", "offset": -67, "values": [0.5, 0, -0.5], "format": ".4f", "labelAlign": "left", "labelPadding": 9, "grid": true, "gridColor": "#1e1e1e"}}, "y2": {"datum": 0}}},
    {"data": {"name": "bars"}, "mark": {"type": "area", "opacity": 0.6, "fill": {"gradient": "linear", "x1": 0, "y1": 0, "x2": 0, "y2": 1, "stops": [{"offset": 0, "color": "#5f1b13"}, {"offset": 0.1429, "color": "#4d1c16"}, {"offset": 0.3214, "color": "#3a2624"}, {"offset": 0.5, "color": "#2c2c2c"}, {"offset": 0.6786, "color": "#263826"}, {"offset": 0.8571, "color": "#1f4a1a"}, {"offset": 1, "color": "#1d5315"}]}}, "encoding": {"x": {"field": "i", "type": "quantitative"}, "y": {"field": "b", "type": "quantitative"}, "y2": {"datum": 0}}},
    {"data": {"name": "bars"}, "mark": {"type": "area", "opacity": 0.6, "fill": {"gradient": "linear", "x1": 0, "y1": 0, "x2": 0, "y2": 1, "stops": [{"offset": 0, "color": "#6b1a10"}, {"offset": 0.0833, "color": "#6b1a10"}, {"offset": 0.2222, "color": "#4d1c16"}, {"offset": 0.3611, "color": "#3a2624"}, {"offset": 0.5, "color": "#2c2c2c"}, {"offset": 0.6389, "color": "#263826"}, {"offset": 0.7778, "color": "#1f4a1a"}, {"offset": 0.9167, "color": "#1b5a10"}, {"offset": 1, "color": "#1b5a10"}]}}, "encoding": {"x": {"field": "i", "type": "quantitative"}, "y": {"field": "a", "type": "quantitative"}, "y2": {"datum": 0}}},
    {"data": {"name": "one"}, "mark": {"type": "rule", "color": "#ff9800", "strokeWidth": 1.5}, "encoding": {"x": {"datum": -8.21}, "x2": {"datum": 181}, "y": {"datum": 0}}},
    {"data": {"name": "one"}, "mark": {"type": "rule", "color": "#8a8a8a", "strokeWidth": 1, "strokeDash": [4, 4], "opacity": 0.6}, "encoding": {"x": {"datum": 157}, "x2": {"datum": 181}, "y": {"datum": 0.116}}},
    {"data": {"name": "bars"}, "mark": {"type": "line", "strokeWidth": 2, "stroke": {"gradient": "linear", "x1": 0, "y1": 0, "x2": 0, "y2": 1, "stops": [{"offset": 0, "color": "#ff2b1c"}, {"offset": 0.1456, "color": "#ee5a50"}, {"offset": 0.2913, "color": "#e6a4a2"}, {"offset": 0.4369, "color": "#e4e4e4"}, {"offset": 0.5825, "color": "#b4e4aa"}, {"offset": 0.7282, "color": "#7ada62"}, {"offset": 0.8738, "color": "#3fd81c"}, {"offset": 1, "color": "#3fd81c"}]}}, "encoding": {"x": {"field": "i", "type": "quantitative"}, "y": {"field": "m", "type": "quantitative"}}},
    {"data": {"name": "bars"}, "mark": {"type": "line", "strokeWidth": 2, "stroke": {"gradient": "linear", "x1": 0, "y1": 0, "x2": 0, "y2": 1, "stops": [{"offset": 0, "color": "#f83a2e"}, {"offset": 0.1429, "color": "#ee5a50"}, {"offset": 0.3214, "color": "#e6a4a2"}, {"offset": 0.5, "color": "#e4e4e4"}, {"offset": 0.6786, "color": "#b4e4aa"}, {"offset": 0.8571, "color": "#7ada62"}, {"offset": 1, "color": "#55d836"}]}}, "encoding": {"x": {"field": "i", "type": "quantitative"}, "y": {"field": "b", "type": "quantitative"}}},
    {"data": {"name": "bars"}, "mark": {"type": "line", "strokeWidth": 2, "stroke": {"gradient": "linear", "x1": 0, "y1": 0, "x2": 0, "y2": 1, "stops": [{"offset": 0, "color": "#ff2b1c"}, {"offset": 0.0833, "color": "#ff2b1c"}, {"offset": 0.2222, "color": "#ee5a50"}, {"offset": 0.3611, "color": "#e6a4a2"}, {"offset": 0.5, "color": "#e4e4e4"}, {"offset": 0.6389, "color": "#b4e4aa"}, {"offset": 0.7778, "color": "#7ada62"}, {"offset": 0.9167, "color": "#3fd81c"}, {"offset": 1, "color": "#3fd81c"}]}}, "encoding": {"x": {"field": "i", "type": "quantitative"}, "y": {"field": "a", "type": "quantitative"}}},
    {"data": {"name": "one"}, "mark": {"type": "rect", "filled": false, "stroke": "#e84e5c", "strokeWidth": 2.5}, "encoding": {"x": {"datum": 156.9}, "x2": {"datum": 181.3}, "y": {"datum": 0.453}, "y2": {"datum": -0.225}}},
    {"data": {"name": "one"}, "mark": {"type": "text", "color": "#b2b5be"}, "encoding": {"x": {"datum": -7.2}, "y": {"datum": 0.477}, "text": {"value": "Irreg. Liq. MTF"}}},
    {"data": {"name": "one"}, "mark": {"type": "text", "color": "#c8e8c4"}, "encoding": {"x": {"datum": 8.81}, "y": {"datum": 0.477}, "text": {"value": "−0.0791"}}},
    {"data": {"name": "one"}, "mark": {"type": "text", "color": "#a9dca4"}, "encoding": {"x": {"datum": 17.90}, "y": {"datum": 0.477}, "text": {"value": "−0.0995"}}},
    {"data": {"name": "one"}, "mark": {"type": "text", "color": "#d89a96"}, "encoding": {"x": {"datum": 26.66}, "y": {"datum": 0.477}, "text": {"value": "0.2046"}}},
    {"data": {"name": "one"}, "mark": {"type": "text", "color": "#ff9800"}, "encoding": {"x": {"datum": 34.59}, "y": {"datum": 0.477}, "text": {"value": "0.0000"}}}
  ]
},
{
  "width": 1803, "height": 142,
  "layer": [
    {"data": {"name": "bars"}, "mark": {"type": "area", "opacity": 0.6, "fill": {"gradient": "linear", "x1": 0, "y1": 0, "x2": 0, "y2": 1, "stops": [{"offset": 0, "color": "#4a1d17"}, {"offset": 0.26, "color": "#3a2624"}, {"offset": 0.56, "color": "#2c2c2c"}, {"offset": 0.86, "color": "#263826"}, {"offset": 1, "color": "#22411f"}]}}, "encoding": {"x": {"field": "i", "type": "quantitative", "scale": {"domain": [-8.21, 289.8], "nice": false, "zero": false}, "axis": {"values": [0,10,26,36,52,62,78,88,104,114,130,140,156,166,182,192,208,218,234,244,260,270], "labels": false, "ticks": false, "domain": false, "grid": true, "gridColor": "#1e1e1e", "title": null}}, "y": {"field": "f", "type": "quantitative", "scale": {"domain": [-0.574, 0.373], "nice": false, "zero": false}, "axis": {"orient": "right", "offset": -67, "values": [0, -0.5], "format": ".4f", "labelAlign": "left", "labelPadding": 9, "grid": true, "gridColor": "#1e1e1e"}}, "y2": {"datum": 0}}},
    {"data": {"name": "bars"}, "mark": {"type": "area", "opacity": 0.6, "fill": {"gradient": "linear", "x1": 0, "y1": 0, "x2": 0, "y2": 1, "stops": [{"offset": 0, "color": "#402220"}, {"offset": 0.119, "color": "#3a2624"}, {"offset": 0.4762, "color": "#2c2c2c"}, {"offset": 0.8333, "color": "#263826"}, {"offset": 1, "color": "#22411f"}]}}, "encoding": {"x": {"field": "i", "type": "quantitative"}, "y": {"field": "e", "type": "quantitative"}, "y2": {"datum": 0}}},
    {"data": {"name": "bars"}, "mark": {"type": "area", "opacity": 0.6, "fill": {"gradient": "linear", "x1": 0, "y1": 0, "x2": 0, "y2": 1, "stops": [{"offset": 0, "color": "#382826"}, {"offset": 0.1967, "color": "#2c2c2c"}, {"offset": 0.4426, "color": "#263826"}, {"offset": 0.6885, "color": "#1f4a1a"}, {"offset": 0.9344, "color": "#1b5a10"}, {"offset": 1, "color": "#1b5a10"}]}}, "encoding": {"x": {"field": "i", "type": "quantitative"}, "y": {"field": "d", "type": "quantitative"}, "y2": {"datum": 0}}},
    {"data": {"name": "one"}, "mark": {"type": "rule", "color": "#ff9800", "strokeWidth": 1.5}, "encoding": {"x": {"datum": -8.21}, "x2": {"datum": 181}, "y": {"datum": 0}}},
    {"data": {"name": "one"}, "mark": {"type": "rule", "color": "#8a8a8a", "strokeWidth": 1, "strokeDash": [4, 4], "opacity": 0.6}, "encoding": {"x": {"datum": 156.5}, "x2": {"datum": 181}, "y": {"datum": 0.062}}},
    {"data": {"name": "bars"}, "mark": {"type": "line", "strokeWidth": 2, "stroke": {"gradient": "linear", "x1": 0, "y1": 0, "x2": 0, "y2": 1, "stops": [{"offset": 0, "color": "#ec6258"}, {"offset": 0.26, "color": "#e6a4a2"}, {"offset": 0.56, "color": "#e4e4e4"}, {"offset": 0.86, "color": "#b4e4aa"}, {"offset": 1, "color": "#98df86"}]}}, "encoding": {"x": {"field": "i", "type": "quantitative"}, "y": {"field": "f", "type": "quantitative"}}},
    {"data": {"name": "bars"}, "mark": {"type": "line", "strokeWidth": 2, "stroke": {"gradient": "linear", "x1": 0, "y1": 0, "x2": 0, "y2": 1, "stops": [{"offset": 0, "color": "#ea8c86"}, {"offset": 0.119, "color": "#e6a4a2"}, {"offset": 0.4762, "color": "#e4e4e4"}, {"offset": 0.8333, "color": "#b4e4aa"}, {"offset": 1, "color": "#98df86"}]}}, "encoding": {"x": {"field": "i", "type": "quantitative"}, "y": {"field": "e", "type": "quantitative"}}},
    {"data": {"name": "bars"}, "mark": {"type": "line", "strokeWidth": 2, "stroke": {"gradient": "linear", "x1": 0, "y1": 0, "x2": 0, "y2": 1, "stops": [{"offset": 0, "color": "#e6b0ae"}, {"offset": 0.1967, "color": "#e4e4e4"}, {"offset": 0.4426, "color": "#b4e4aa"}, {"offset": 0.6885, "color": "#7ada62"}, {"offset": 0.9344, "color": "#3fd81c"}, {"offset": 1, "color": "#3fd81c"}]}}, "encoding": {"x": {"field": "i", "type": "quantitative"}, "y": {"field": "d", "type": "quantitative"}}},
    {"data": {"name": "one"}, "mark": {"type": "rect", "filled": false, "stroke": "#e84e5c", "strokeWidth": 2.5}, "encoding": {"x": {"datum": 156.1}, "x2": {"datum": 181.3}, "y": {"datum": 0.267}, "y2": {"datum": -0.138}}},
    {"data": {"name": "one"}, "mark": {"type": "text", "color": "#b2b5be"}, "encoding": {"x": {"datum": -7.2}, "y": {"datum": 0.258}, "text": {"value": "Irreg. Liq. Groups MTF"}}},
    {"data": {"name": "one"}, "mark": {"type": "text", "color": "#e6e6e6"}, "encoding": {"x": {"datum": 16.36}, "y": {"datum": 0.258}, "text": {"value": "−0.0239"}}},
    {"data": {"name": "one"}, "mark": {"type": "text", "color": "#e6e6e6"}, "encoding": {"x": {"datum": 25.17}, "y": {"datum": 0.258}, "text": {"value": "0.0018"}}},
    {"data": {"name": "one"}, "mark": {"type": "text", "color": "#e57b74"}, "encoding": {"x": {"datum": 33.04}, "y": {"datum": 0.258}, "text": {"value": "0.2236"}}},
    {"data": {"name": "one"}, "mark": {"type": "text", "color": "#ff9800"}, "encoding": {"x": {"datum": 40.87}, "y": {"datum": 0.258}, "text": {"value": "0.0000"}}},
    {"data": {"name": "one"}, "mark": {"type": "text", "color": "#ffffff", "align": "right", "fontSize": 15.5, "fontWeight": "bold"}, "encoding": {"x": {"datum": 275.6}, "y": {"datum": 0.202}, "text": {"value": "MAG7 (NYSE Lit-Hrs)"}}}
  ]
},
{
  "width": 1803, "height": 66,
  "data": {"name": "one"},
  "layer": [
    {"mark": {"type": "text", "color": "#b2b5be"}, "encoding": {"x": {"datum": -7.2, "type": "quantitative", "scale": {"domain": [-8.21, 289.8], "nice": false, "zero": false}, "axis": {"values": [0,10,26,36,52,62,78,88,104,114,130,140,156,166,182,192,208,218,234,244,260,270], "labelExpr": "datum.value % 26 == 10 ? '12:00' : ['29','30','31','Nov','4','5','6','7','10','11','12'][datum.value / 26]", "grid": false, "ticks": false, "domain": true, "domainColor": "#2a2a2a", "domainWidth": 2, "offset": -29, "labelPadding": 9, "labelOverlap": false, "labelFlush": false, "title": null}}, "y": {"datum": 49.3, "type": "quantitative", "scale": {"domain": [0, 66], "nice": false, "zero": false}, "axis": null}, "text": {"value": "Irregular Liquidity"}}},
    {"mark": {"type": "text", "color": "#b2b5be"}, "encoding": {"x": {"datum": 12.68}, "y": {"datum": 49.3}, "text": {"value": "∅  ∅  ∅  ∅"}}},
    {"mark": {"type": "text", "color": "#ffffff", "fontWeight": "bold"}, "encoding": {"x": {"datum": 23.16}, "y": {"datum": 49.3}, "text": {"value": "−0.0239"}}}
  ]
}
]
}
